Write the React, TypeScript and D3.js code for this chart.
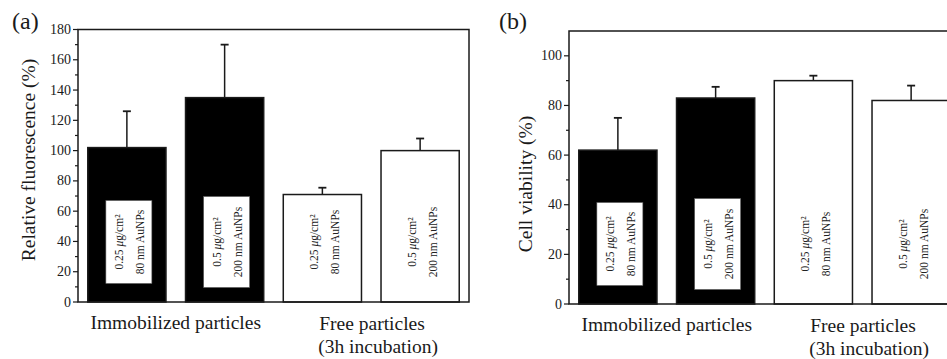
import React from "react";
import * as d3 from "d3";

// ---------- data ----------
const barKeys = ["imm-0.25", "imm-0.5", "free-0.25", "free-0.5"];
const doseLabels = ["0.25", "0.5", "0.25", "0.5"];
const sizeLabels = ["80 nm AuNPs", "200 nm AuNPs", "80 nm AuNPs", "200 nm AuNPs"];
const immobilized = [true, true, false, false];
const groupLabels = [["Immobilized particles"], ["Free particles", "(3h incubation)"]];

const fluorescence = [102, 135, 71, 100];
const fluorescenceErr = [24, 35, 4.5, 8];
const viability = [62, 83, 90, 82];
const viabilityErr = [13, 4.5, 2, 6];

const fluorescenceTicks = [0, 20, 40, 60, 80, 100, 120, 140, 160, 180];
const fluorescenceMinor = [10, 30, 50, 70, 90, 110, 130, 150, 170];
const viabilityTicks = [0, 20, 40, 60, 80, 100];
const viabilityMinor = [10, 30, 50, 70, 90];

const FONT = "'Liberation Serif', 'Times New Roman', serif";
const INK = "#1a1a1a";

type PanelProps = {
  letter: string;
  letterX: number;
  left: number;
  right: number;
  top: number;
  bottom: number;
  yMax: number;
  values: number[];
  errs: number[];
  ticks: number[];
  minor: number[];
  title: string;
  titleX: number;
  titleY: number;
};

function Panel(p: PanelProps) {
  const x = d3.scaleBand<string>().domain(barKeys).range([p.left, p.right]).paddingInner(0.2).paddingOuter(0.1);
  const y = d3.scaleLinear().domain([0, p.yMax]).range([p.bottom, p.top]);
  const bw = x.bandwidth();
  const y0 = y(0);
  const mid01 = ((x(barKeys[0]) as number) + (x(barKeys[1]) as number) + bw) / 2;
  const mid23 = ((x(barKeys[2]) as number) + (x(barKeys[3]) as number) + bw) / 2;

  return (
    <g>
      <text x={p.letterX} y={29} fontFamily={FONT} fontSize={24} fill={INK}>{p.letter}</text>
      {/* bars */}
      {barKeys.map((k, i) => {
        const bx = x(k) as number;
        const top = y(p.values[i]);
        const etop = y(p.values[i] + p.errs[i]);
        const cx = bx + bw / 2;
        return (
          <g key={k}>
            <line x1={cx} x2={cx} y1={top} y2={etop} stroke={INK} strokeWidth={1.5} />
            <line x1={cx - 4} x2={cx + 4} y1={etop} y2={etop} stroke={INK} strokeWidth={1.8} />
            <rect x={bx} y={top} width={bw} height={y0 - top}
              fill={immobilized[i] ? "#000" : "#fff"} stroke={INK} strokeWidth={1.5} />
          </g>
        );
      })}
      {/* in-bar labels */}
      {barKeys.map((k, i) => {
        const bx = x(k) as number;
        const cx = bx + bw / 2 + 2;
        const cy = y0 - 60;
        const boxH = sizeLabels[i].length > 11 ? 91 : 83;
        return (
          <g key={k + "lab"}>
            {immobilized[i] && (
              <rect x={cx - 23} y={cy - boxH / 2} width={46} height={boxH} fill="#fff" stroke="#555" strokeWidth={0.6} />
            )}
            <text transform={`translate(${cx - 10},${cy}) rotate(-90)`} textAnchor="middle" dominantBaseline="central"
              fontFamily={FONT} fontSize={11.5} fill="#222">
              {doseLabels[i]} <tspan fontStyle="italic">μ</tspan>g/cm²
            </text>
            <text transform={`translate(${cx + 11},${cy}) rotate(-90)`} textAnchor="middle" dominantBaseline="central"
              fontFamily={FONT} fontSize={11.5} fill="#222">
              {sizeLabels[i]}
            </text>
          </g>
        );
      })}
      {/* frame */}
      <rect x={p.left} y={p.top} width={p.right - p.left} height={y0 - p.top} fill="none" stroke={INK} strokeWidth={1.5} />
      {/* y ticks */}
      {p.ticks.map((t) => (
        <g key={"t" + t}>
          <line x1={p.left - 5} x2={p.left} y1={y(t)} y2={y(t)} stroke={INK} strokeWidth={1.2} />
          <text x={p.left - 7} y={y(t)} textAnchor="end" dominantBaseline="central" fontFamily={FONT} fontSize={14} fill={INK}>{t}</text>
        </g>
      ))}
      {p.minor.map((t) => (
        <line key={"m" + t} x1={p.left - 3} x2={p.left} y1={y(t)} y2={y(t)} stroke={INK} strokeWidth={1.2} />
      ))}
      {/* y title */}
      <text transform={`translate(${p.titleX},${p.titleY}) rotate(-90)`} textAnchor="middle"
        fontFamily={FONT} fontSize={19.5} fill={INK}>{p.title}</text>
      {/* group labels */}
      <text x={mid01} y={y0 + 27} textAnchor="middle" fontFamily={FONT} fontSize={19.5} fill={INK}>{groupLabels[0][0]}</text>
      <text fontFamily={FONT} fontSize={19.5} fill={INK}>
        <tspan x={mid23 - 52} y={y0 + 28}>{groupLabels[1][0]}</tspan>
        <tspan x={mid23 - 53} y={y0 + 50.5}>{groupLabels[1][1]}</tspan>
      </text>
    </g>
  );
}

export default function App() {
  return (
    <svg width={947} height={359} style={{ position: "absolute", left: 0, top: 0, background: "#fff" }}>
      <rect x={0} y={0} width={947} height={359} fill="#fff" />
      <Panel letter="(a)" letterX={12} left={78} right={469} top={29.5} bottom={302} yMax={180}
        values={fluorescence} errs={fluorescenceErr} ticks={fluorescenceTicks} minor={fluorescenceMinor}
        title="Relative fluorescence (%)" titleX={35} titleY={160} />
      <Panel letter="(b)" letterX={499} left={569} right={960} top={31} bottom={304} yMax={110}
        values={viability} errs={viabilityErr} ticks={viabilityTicks} minor={viabilityMinor}
        title="Cell viability (%)" titleX={532} titleY={184} />
    </svg>
  );
}
